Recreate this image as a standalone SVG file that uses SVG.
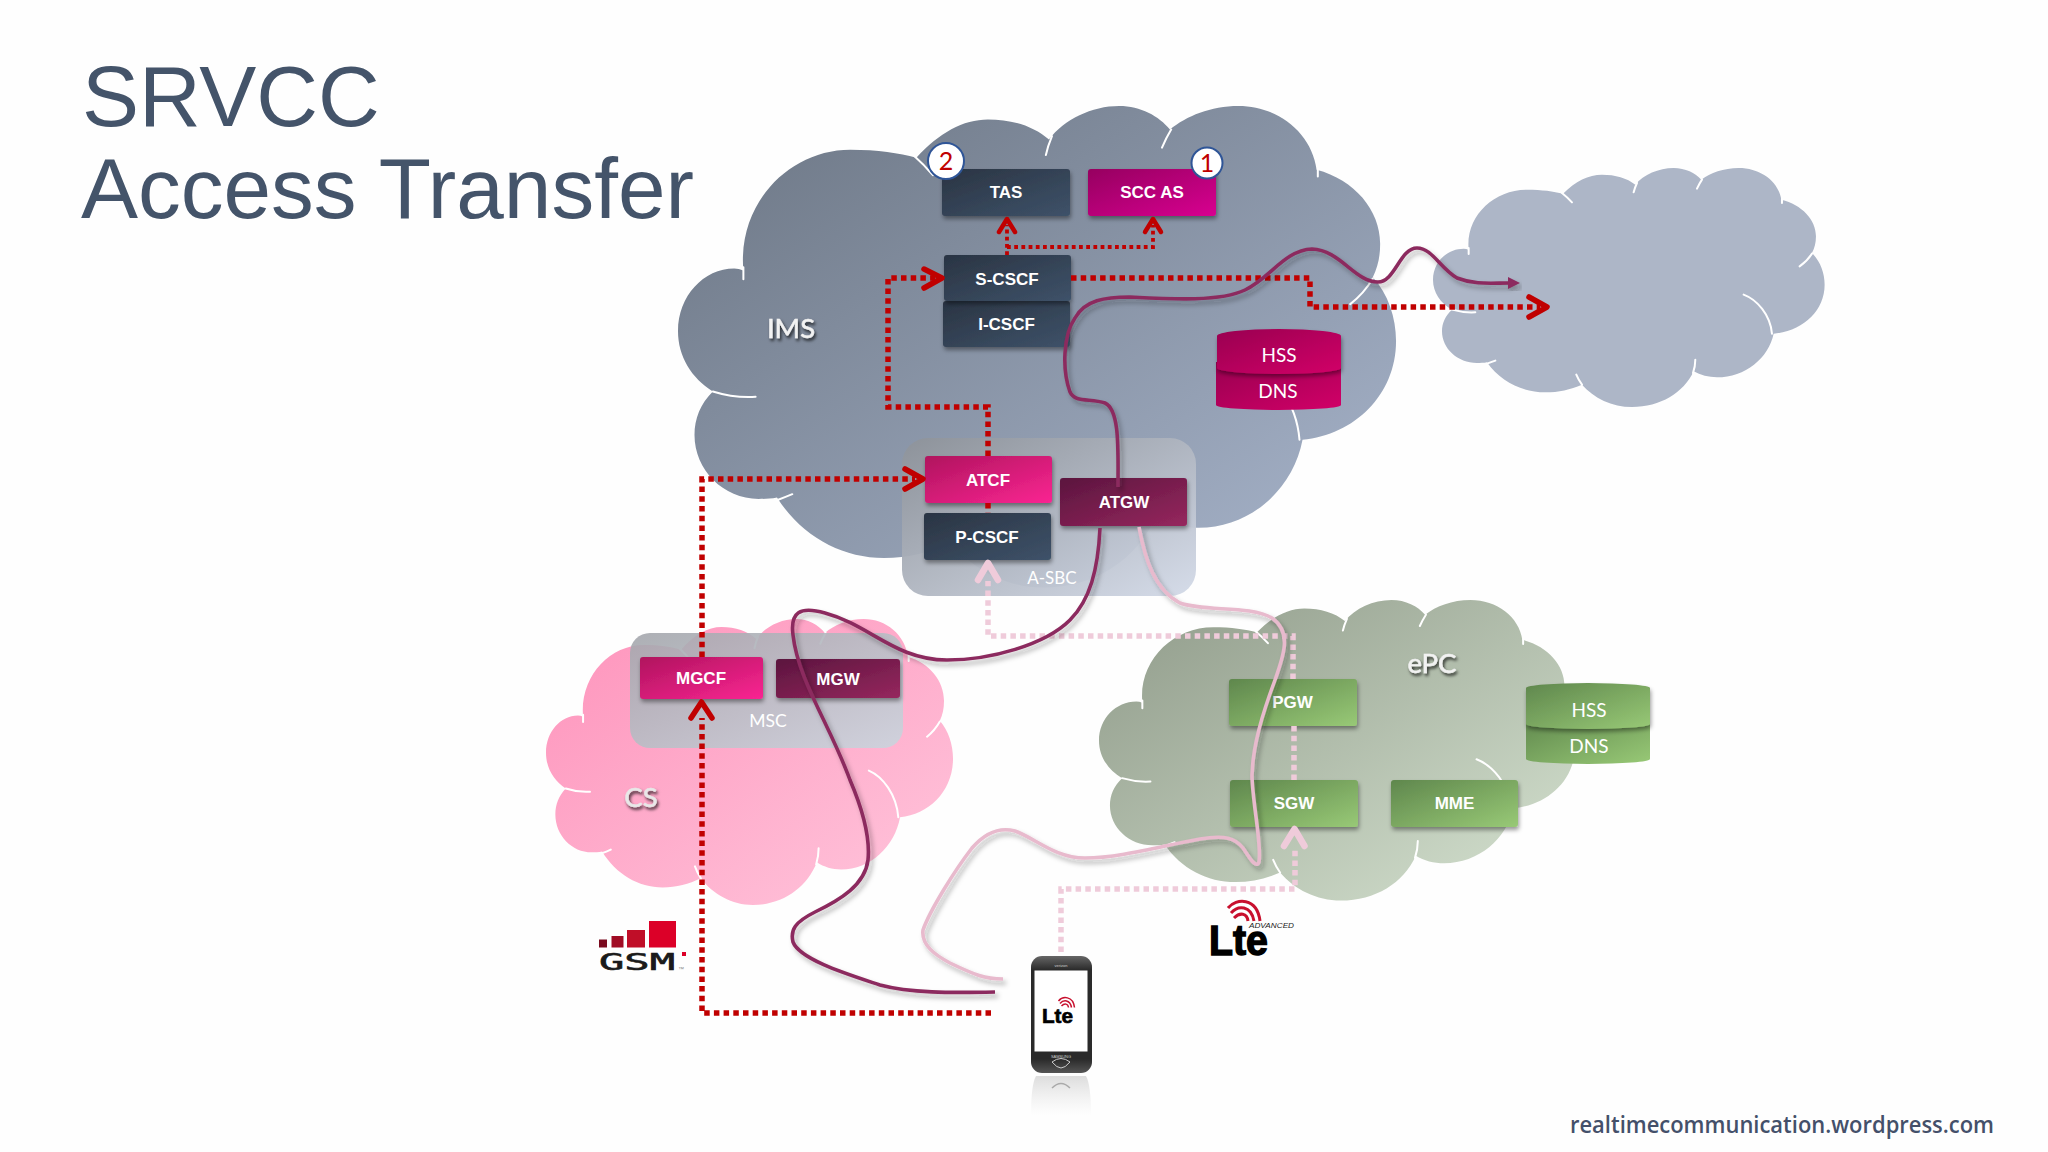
<svg xmlns="http://www.w3.org/2000/svg" xmlns:xlink="http://www.w3.org/1999/xlink" width="2048" height="1152" viewBox="0 0 2048 1152">
<style>
.lbl{font-family:"Liberation Sans",Arial,sans-serif;font-weight:700;font-size:17px;fill:#fff;text-anchor:middle}
.cal{font-family:Lato,"Open Sans",sans-serif;fill:#fff;text-anchor:middle;font-size:19px}
.cloudname{font-family:Lato,"Open Sans",sans-serif;font-size:27.5px;fill:#f2f2f2;text-anchor:middle;filter:url(#ts);stroke:#f2f2f2;stroke-width:.5}
.title{font-family:"Liberation Sans",Arial,sans-serif;font-size:85.5px;fill:#44546a}
.tick{fill:none;stroke:#fff;stroke-width:2;vector-effect:non-scaling-stroke;stroke-linecap:round}
.box{filter:url(#sh)}
.red{fill:none;stroke:#c00000;stroke-width:5.5;stroke-dasharray:5.5 4.2}
.redthin{fill:none;stroke:#c00000;stroke-width:3.8;stroke-dasharray:3.8 3.4}
.pink{fill:none;stroke:#efcbda;stroke-width:5.5;stroke-dasharray:5.5 4.2}
.ahr{fill:none;stroke:#c00000;stroke-width:5.5;stroke-linecap:round;stroke-linejoin:round}
.ahp{fill:none;stroke:#efcbda;stroke-width:6.5;stroke-linecap:round;stroke-linejoin:round}
.dark{fill:none;stroke:#8c2c5e;stroke-width:3.6;filter:url(#cs)}
.light{fill:none;stroke:#e8bacd;stroke-width:3.6;filter:url(#cs)}
.wave{fill:none;stroke:#c8102e;stroke-width:3}
</style>
<defs>
<linearGradient id="gIms" x1="0" y1="0" x2="1" y2="1"><stop offset="0" stop-color="#6b7583"/><stop offset="1" stop-color="#a9b6cd"/></linearGradient>
<linearGradient id="gCs" x1="0" y1="0" x2="1" y2="1"><stop offset="0" stop-color="#fe93bb"/><stop offset="1" stop-color="#ffc6dc"/></linearGradient>
<linearGradient id="gEpc" x1="0" y1="0" x2="1" y2="1"><stop offset="0" stop-color="#8f9a89"/><stop offset="1" stop-color="#d6e3d1"/></linearGradient>
<linearGradient id="gSbc" x1="0" y1="0" x2="1" y2="1"><stop offset="0" stop-color="#8d9299"/><stop offset="1" stop-color="#d3dae8"/></linearGradient>
<linearGradient id="gMsc" x1="0" y1="0" x2="1" y2="1"><stop offset="0" stop-color="#a4a6ac"/><stop offset="1" stop-color="#cbd5de"/></linearGradient>
<linearGradient id="gNavy" x1="0" y1="0" x2="1" y2="1"><stop offset="0" stop-color="#2a3443"/><stop offset="1" stop-color="#3e5269"/></linearGradient>
<linearGradient id="gMag" x1="0" y1="0" x2="1" y2="1"><stop offset="0" stop-color="#960060"/><stop offset="1" stop-color="#d80090"/></linearGradient>
<linearGradient id="gPink" x1="0" y1="0" x2="1" y2="1"><stop offset="0" stop-color="#b0145e"/><stop offset="1" stop-color="#fa2592"/></linearGradient>
<linearGradient id="gWine" x1="0" y1="0" x2="1" y2="1"><stop offset="0" stop-color="#5b153e"/><stop offset="1" stop-color="#96275e"/></linearGradient>
<linearGradient id="gGreen" x1="0" y1="0" x2="1" y2="1"><stop offset="0" stop-color="#5f874d"/><stop offset="1" stop-color="#98c976"/></linearGradient>
<linearGradient id="gDb" x1="0" y1="0" x2="1" y2="1"><stop offset="0" stop-color="#990050"/><stop offset="1" stop-color="#d20068"/></linearGradient>
<linearGradient id="gPhone" x1="0" y1="0" x2="0" y2="1"><stop offset="0" stop-color="#666"/><stop offset="0.12" stop-color="#2a2a2a"/><stop offset="0.88" stop-color="#2a2a2a"/><stop offset="1" stop-color="#555"/></linearGradient>
<linearGradient id="gRefl" x1="0" y1="0" x2="0" y2="1"><stop offset="0" stop-color="#999" stop-opacity=".55"/><stop offset="1" stop-color="#bbb" stop-opacity="0"/></linearGradient>
<filter id="sh" x="-10%" y="-15%" width="120%" height="140%"><feDropShadow dx="1" dy="3" stdDeviation="2" flood-color="#000" flood-opacity=".4"/></filter>
<filter id="cs" x="-10%" y="-10%" width="125%" height="125%"><feDropShadow dx="3" dy="4" stdDeviation="2.5" flood-color="#222" flood-opacity=".3"/></filter>
<filter id="ts" x="-20%" y="-20%" width="150%" height="150%"><feDropShadow dx="1.5" dy="2.5" stdDeviation="1.5" flood-color="#000" flood-opacity=".75"/></filter>
<g id="cloud" transform="translate(-158,-85)">
<path id="cloudBody" d="M265,330 C255,230 340,150 440,150 C485,150 520,155 548,162 C585,125 625,105 665,105 C705,105 740,115 765,135 C790,105 835,85 880,85 C915,85 945,100 963,120 C990,100 1030,85 1075,85 C1140,85 1195,125 1203,180 C1265,195 1307,240 1307,290 C1307,310 1303,325 1295,340 C1320,365 1333,400 1333,435 C1333,515 1265,575 1180,582 C1165,655 1095,713 1010,713 C985,713 960,707 940,695 C910,760 840,802 755,802 C695,802 640,775 605,735 C570,750 535,758 495,758 C425,758 360,725 320,668 C310,670 300,670 290,670 C232,670 185,627 185,575 C185,550 195,528 215,510 C180,490 158,458 158,420 C158,368 200,327 250,327 C255,327 260,328 265,330 Z"/>
<path class="tick" d="M265,343 L265,325 M545,160 Q560,172 575,188 M760,158 Q763,145 770,130 M950,147 Q957,132 965,120 M1205,190 L1205,178 M1295,342 Q1280,365 1258,380 M1090,465 C1130,480 1170,525 1175,582 M945,660 Q945,680 938,700 M588,705 Q595,722 605,735 M320,672 Q332,668 345,663 M215,510 Q250,520 285,518"/>
</g>
<g id="waves"><path class="wave" d="M1228,908 C1236,898 1257,897 1260,921"/><path class="wave" d="M1231,913 C1238,905 1251,905 1254,921"/><path class="wave" d="M1234,918 C1240,912 1247,913 1248,921"/></g>
</defs>
<rect width="2048" height="1152" fill="#fefefe"/>
<g id="title"><text class="title" x="82" y="126">SRVCC</text><text class="title" x="81" y="218">Access Transfer</text></g>

<g id="cloud-remote"><use href="#cloud" fill="#adb6c7" transform="translate(1433,168) scale(.3333,.3333)"/></g>
<g id="cloud-ims"><use href="#cloud" fill="url(#gIms)" transform="translate(678,106) scale(.6111,.6716)"/><text class="cloudname" x="791" y="338">IMS</text></g>
<g id="cloud-cs"><use href="#cloud" fill="url(#gCs)" transform="translate(546,619) scale(.3464,.3989)"/><text class="cloudname" x="641" y="807" style="fill:#e8e8e8;stroke:#e8e8e8">CS</text></g>
<g id="cloud-epc"><use href="#cloud" fill="url(#gEpc)" transform="translate(1099,600) scale(.4051,.4192)"/><text class="cloudname" x="1432" y="673">ePC</text></g>

<g id="a-sbc"><rect x="902" y="438" width="294" height="158" rx="26" fill="url(#gSbc)" opacity=".95"/><text class="cal" x="1052" y="584" style="font-size:17px">A-SBC</text></g>
<g id="msc"><rect x="630" y="633" width="273" height="115" rx="20" fill="url(#gMsc)" opacity=".9"/><text class="cal" x="768" y="727" style="font-size:17.5px">MSC</text></g>

<g id="tas"><rect class="box" x="942" y="169" width="128" height="47" rx="3" fill="url(#gNavy)"/><text class="lbl" x="1006" y="198">TAS</text></g>
<g id="scc-as"><rect class="box" x="1088" y="169" width="128" height="47" rx="3" fill="url(#gMag)"/><text class="lbl" x="1152" y="198">SCC AS</text></g>
<g id="badge-2"><circle cx="946" cy="161" r="18" fill="#fff" stroke="#2f5597" stroke-width="2"/><text class="cal" x="946" y="170" style="fill:#c00000;font-size:25px">2</text></g>
<g id="badge-1"><circle cx="1207" cy="163" r="15.5" fill="#fff" stroke="#2f5597" stroke-width="2"/><text class="cal" x="1207" y="172" style="fill:#c00000;font-size:25px">1</text></g>
<g id="i-cscf"><rect class="box" x="943" y="301" width="127" height="46" rx="3" fill="url(#gNavy)"/><text class="lbl" x="1006.500" y="330">I-CSCF</text></g>
<g id="s-cscf"><rect class="box" x="944" y="255" width="127" height="46" rx="3" fill="url(#gNavy)"/><text class="lbl" x="1007" y="285">S-CSCF</text></g>
<g id="dns-ims"><path d="M1216,362 H1341 V405 A62.500,5 0 0 1 1216,405 Z" fill="url(#gDb)"/><text class="cal" x="1278" y="398">DNS</text></g>
<g id="hss-ims"><path class="box" d="M1217,336 A62,7 0 0 1 1341,336 V368 A62,6 0 0 1 1217,368 Z" fill="url(#gDb)"/><text class="cal" x="1279" y="362">HSS</text></g>
<g id="atcf"><rect class="box" x="925" y="456" width="127" height="47" rx="3" fill="url(#gPink)"/><text class="lbl" x="988" y="486">ATCF</text></g>
<g id="p-cscf"><rect class="box" x="924" y="513" width="127" height="47" rx="3" fill="url(#gNavy)"/><text class="lbl" x="987" y="543">P-CSCF</text></g>
<g id="atgw"><rect class="box" x="1060" y="478" width="127" height="48" rx="3" fill="url(#gWine)"/><text class="lbl" x="1124" y="508">ATGW</text></g>
<g id="mgcf"><rect class="box" x="640" y="657" width="123" height="42" rx="3" fill="url(#gPink)"/><text class="lbl" x="701" y="684">MGCF</text></g>
<g id="mgw"><rect class="box" x="776" y="659" width="124" height="39" rx="3" fill="url(#gWine)"/><text class="lbl" x="838" y="685">MGW</text></g>
<g id="pgw"><rect class="box" x="1229" y="679" width="128" height="47" rx="3" fill="url(#gGreen)"/><text class="lbl" x="1292.500" y="708">PGW</text></g>
<g id="sgw"><rect class="box" x="1230" y="780" width="128" height="47" rx="3" fill="url(#gGreen)"/><text class="lbl" x="1294" y="809">SGW</text></g>
<g id="mme"><rect class="box" x="1391" y="780" width="127" height="47" rx="3" fill="url(#gGreen)"/><text class="lbl" x="1454.500" y="809">MME</text></g>
<g id="dns-epc"><path d="M1526,715 H1650 V759 A62,5 0 0 1 1526,759 Z" fill="url(#gGreen)"/><text class="cal" x="1589" y="753">DNS</text></g>
<g id="hss-epc"><path class="box" d="M1526,688 A62,5 0 0 1 1650,688 V724 A62,5 0 0 1 1526,724 Z" fill="url(#gGreen)"/><text class="cal" x="1589" y="717">HSS</text></g>

<g id="gsm-logo">
<rect x="599" y="939.500" width="8" height="8" fill="#7a0a1e"/><rect x="611.500" y="936" width="12" height="11.500" fill="#a00c24"/><rect x="627" y="930" width="18" height="17.500" fill="#c00e28"/><rect x="649" y="921" width="27" height="26.500" fill="#dc0028"/>
<rect x="682" y="952" width="4" height="4" fill="#dc0028"/>
<text x="599" y="970" textLength="76" lengthAdjust="spacingAndGlyphs" style="font-family:'DejaVu Sans Mono',monospace;font-size:23px;fill:#1a1a1a;stroke:#1a1a1a;stroke-width:.6">GSM</text>
<text x="678" y="971" style="font-family:'Liberation Sans',sans-serif;font-size:6px;fill:#888">™</text>
</g>
<g id="lte-logo">
<use href="#waves"/>
<text x="1209" y="955" textLength="59" lengthAdjust="spacingAndGlyphs" style="font-family:'Liberation Sans',sans-serif;font-weight:700;font-size:42px;fill:#000;stroke:#000;stroke-width:1.4">Lte</text>
<text x="1249" y="928" textLength="45" lengthAdjust="spacingAndGlyphs" style="font-family:'Liberation Sans',sans-serif;font-style:italic;font-size:7px;fill:#222">ADVANCED</text>
</g>
<g id="phone">
<path d="M1036,1076 H1086 Q1091,1085 1091,1115 H1031 Q1031,1085 1036,1076 Z" fill="url(#gRefl)" opacity=".6"/>
<path d="M1052,1088 Q1061,1079 1070,1088" fill="none" stroke="#aaa" stroke-width="1.500"/>
<rect x="1031" y="956" width="61" height="117" rx="11" fill="url(#gPhone)"/>
<rect x="1034.500" y="970.500" width="53" height="81" fill="#fff"/>
<text x="1061" y="967" text-anchor="middle" style="font-family:'Liberation Sans',sans-serif;font-size:4px;fill:#ccc">verizon</text>
<text x="1061" y="1058" text-anchor="middle" style="font-family:'Liberation Sans',sans-serif;font-size:4px;fill:#ccc">SAMSUNG</text>
<path d="M1052,1062 Q1061,1055 1070,1062 Q1065,1068 1061,1068 Q1057,1068 1052,1062 Z" fill="none" stroke="#ccc" stroke-width="1"/>
<use href="#waves" transform="translate(444.500,547) scale(.5)"/>
<text x="1042" y="1023" textLength="31" lengthAdjust="spacingAndGlyphs" style="font-family:'Liberation Sans',sans-serif;font-weight:700;font-size:21px;fill:#000;stroke:#000;stroke-width:.7">Lte</text>
</g>
<g id="watermark"><text x="1570" y="1133" textLength="424" lengthAdjust="spacingAndGlyphs" style="font-family:'Open Sans',sans-serif;font-weight:600;font-size:23px;fill:#44506a">realtimecommunication.wordpress.com</text></g>

<g id="connectors">
<path class="pink" d="M1061,952 V889 H1295 V847"/>
<path class="pink" d="M1294,780 V726"/>
<path class="pink" d="M1293,679 V636 H988 V581"/>
<path class="ahp" d="M1284,846 L1294.500,829 L1304.500,846"/>
<path class="ahp" d="M978,580 L988,563 L998,580"/>
<path class="red" d="M991,1013 H702 V718"/>
<path class="red" d="M702,657 V479 H915"/>
<path class="ahr" d="M905,469 L923,479 L905,489"/>
<path class="ahr" d="M691,718 L701.500,702 L712,718"/>
<path class="red" d="M988,456 V407 H888 V278 H935"/>
<path class="ahr" d="M924,269 L942,278 L924,288"/>
<path class="red" d="M988,503 V513"/>
<path class="redthin" d="M1007,255 V225"/>
<path class="redthin" d="M1007,247 H1153 V225"/>
<path class="ahr" style="stroke-width:4.500" d="M999,232 L1007,219 L1015,232"/>
<path class="ahr" style="stroke-width:4.500" d="M1145,232 L1153,219 L1161,232"/>
<path class="red" d="M1071,278 H1310 V307 H1540"/>
<path class="ahr" d="M1529,297 L1547,307 L1529,317"/>
<path class="light" d="M1139,527 C1145,560 1155,590 1180,603 C1205,612 1250,605 1272,618 C1292,632 1284,655 1275,680 C1262,715 1253,745 1252,775 C1252,800 1262,845 1259,862 C1256,870 1248,855 1243,848 C1235,838 1225,835 1200,839 C1165,845 1120,858 1085,858 C1055,858 1035,838 1015,831 C1000,827 985,833 972,848 C955,870 930,910 923,930 C921,945 935,955 950,963 C975,975 985,979 1003,979"/>
<path class="dark" d="M1100,528 C1098,570 1090,600 1070,620 C1045,645 990,660 947,660 C895,660 870,625 825,613 C800,606 790,612 793,635 C798,680 830,725 850,780 C865,815 870,840 868,860 C865,885 840,900 815,912 C795,922 790,930 793,942 C800,960 850,975 880,985 C910,993 950,993 995,992"/>
<path class="dark" d="M1118,487 C1118,450 1120,410 1105,403 C1090,398 1075,403 1070,392 C1062,370 1063,335 1075,318 C1085,300 1105,297 1130,297 C1170,299 1220,302 1245,290 C1270,278 1285,250 1312,249 C1340,250 1355,282 1378,282 C1395,282 1400,248 1417,248 C1432,248 1440,268 1457,278 C1475,285 1490,283 1510,283"/>
<path d="M1508,277 L1520,283 L1508,289 Z" fill="#8c2c5e" filter="url(#cs)"/>
</g>
</svg>
